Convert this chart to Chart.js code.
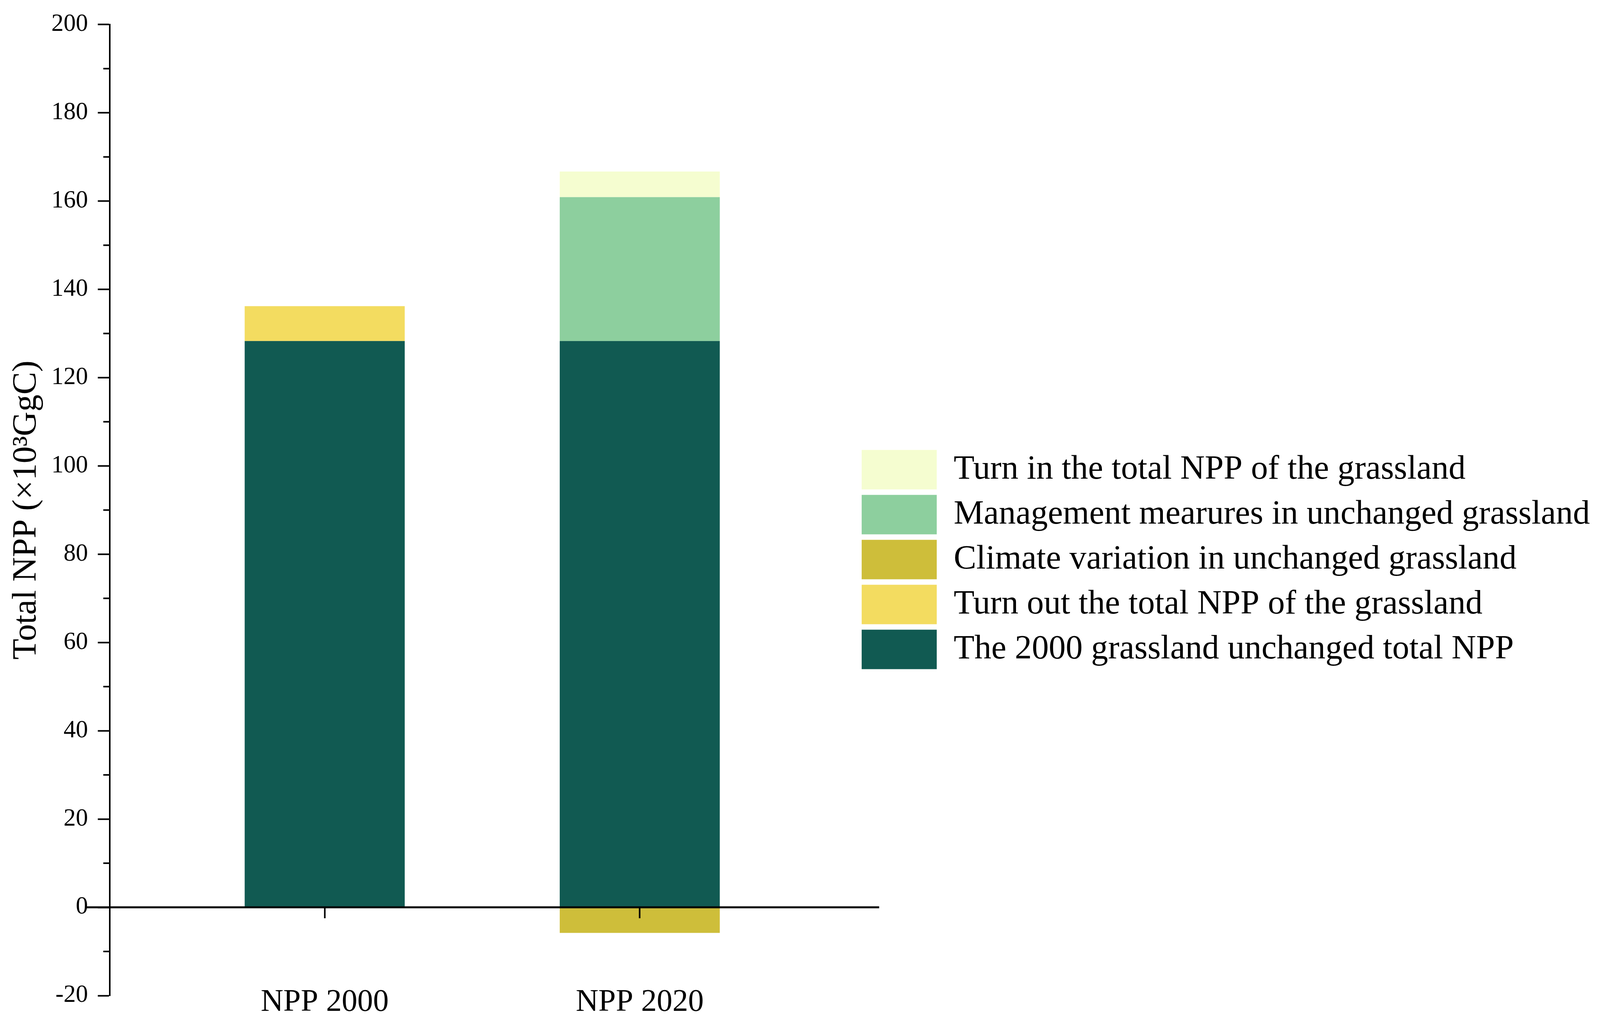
<!DOCTYPE html>
<html>
<head>
<meta charset="utf-8">
<script src="https://cdn.jsdelivr.net/npm/chart.js@4.4.1/dist/chart.umd.min.js"></script>
<style>
    html, body { margin: 0; padding: 0; background: #ffffff; overflow: hidden; }
    #wrap { width: 100vw; height: 100vh; }
</style>
</head>
<body>
<div id="wrap"><canvas id="nppChart"></canvas></div>
<script>
// values (x10^3 GgC)
var categories = ['NPP 2000', 'NPP 2020'];
var unchangedNpp = [128.3, 128.3];
var turnOutNpp = [7.9, null];
var climateNpp = [null, -5.8];
var managementNpp = [null, 32.6];
var turnInNpp = [null, 5.8];

var seriesNames = [
    'The 2000 grassland unchanged total NPP',
    'Turn out the total NPP of the grassland',
    'Climate variation in unchanged grassland',
    'Management mearures in unchanged grassland',
    'Turn in the total NPP of the grassland'
];
var seriesColors = ['#115a52', '#f3dc60', '#cebe3a', '#8dcf9e', '#f5fdd0'];

var yMin = -20;
var yMax = 200;
var yStep = 20;

var FONT = 'Liberation Serif';

// sizes below are for a 4390x2636 page, scaled to the real window
var sx = window.innerWidth / 4390;
var sy = window.innerHeight / 2636;

// bars sit on a linear x scale at 1, 2, ... so the axis range can be set like the original
function toPoints(values) {
    return values.map(function (v, i) {
        return { x: i + 1, y: v };
    });
}

function categoryTicks(scale) {
    scale.ticks = categories.map(function (c, i) {
        return { value: i + 1 };
    });
}

var seriesValues = [unchangedNpp, turnOutNpp, climateNpp, managementNpp, turnInNpp];
var datasets = seriesValues.map(function (vals, i) {
    return {
        label: seriesNames[i],
        data: toPoints(vals),
        backgroundColor: seriesColors[i],
        borderWidth: 0,
        barPercentage: 0.508,
        categoryPercentage: 1.0
    };
});

// zero line through the bars and the minor ticks of the y axis
var axisExtras = {
    id: 'axisExtras',
    afterDatasetsDraw: function (chart) {
        var ctx = chart.ctx;
        var area = chart.chartArea;
        var y0 = chart.scales.y.getPixelForValue(0);
        ctx.save();
        ctx.strokeStyle = '#000000';
        ctx.lineWidth = 5;
        ctx.beginPath();
        ctx.moveTo(area.left - 68 * sx, y0);
        ctx.lineTo(area.right + 63 * sx, y0);
        ctx.stroke();
        ctx.restore();
    },
    afterDraw: function (chart) {
        var ctx = chart.ctx;
        var yScale = chart.scales.y;
        var ticks = yScale.ticks;
        ctx.save();
        ctx.strokeStyle = '#000000';
        ctx.lineWidth = 4;
        for (var i = 0; i < ticks.length - 1; i++) {
            var py = yScale.getPixelForValue((ticks[i].value + ticks[i + 1].value) / 2);
            ctx.beginPath();
            ctx.moveTo(yScale.right - 18 * sx, py);
            ctx.lineTo(yScale.right, py);
            ctx.stroke();
        }
        ctx.restore();
    }
};

var ctx = document.getElementById('nppChart').getContext('2d');
var myChart = new Chart(ctx, {
    type: 'bar',
    plugins: [axisExtras],
    data: {
        datasets: datasets
    },
    options: {
        responsive: true,
        maintainAspectRatio: false,
        devicePixelRatio: 1,
        animation: false,
        layout: {
            padding: { top: 56 * sy, right: 17 * sx, bottom: 88 * sy, left: 0 }
        },
        scales: {
            x: {
                type: 'linear',
                display: false,
                stacked: true,
                offset: false,
                min: 0.318,
                max: 2.687,
                afterBuildTicks: categoryTicks
            },
            // axis drawn on the zero line; its labels are pushed down to the bottom
            x0: {
                type: 'linear',
                axis: 'x',
                position: { y: 0 },
                offset: false,
                min: 0.318,
                max: 2.687,
                afterBuildTicks: categoryTicks,
                ticks: {
                    color: '#000000',
                    padding: 168 * sy,
                    font: { family: FONT, size: 86 * sx },
                    callback: function (v) {
                        return categories[v - 1];
                    }
                },
                grid: {
                    offset: false,
                    drawOnChartArea: false,
                    tickLength: 28 * sy,
                    tickWidth: 4,
                    tickColor: '#000000',
                    z: 1
                },
                border: { display: false }
            },
            y: {
                stacked: true,
                min: yMin,
                max: yMax,
                ticks: {
                    stepSize: yStep,
                    color: '#000000',
                    padding: 27 * sx,
                    font: { family: FONT, size: 67 * sx }
                },
                grid: {
                    drawOnChartArea: false,
                    tickLength: 33 * sx,
                    tickWidth: 4,
                    tickColor: '#000000'
                },
                border: { color: '#000000', width: 4 },
                title: {
                    display: true,
                    text: 'Total NPP (\u00d710\u00b3GgC)',
                    color: '#000000',
                    font: { family: FONT, size: 87 * sy },
                    padding: { top: 17 * sx, bottom: -15 * sx }
                }
            }
        },
        plugins: {
            tooltip: { enabled: false },
            legend: {
                position: 'right',
                align: 'center',
                reverse: true,
                maxWidth: 2200 * sx,
                title: {
                    display: true,
                    text: '',
                    padding: 124 * sy,
                    font: { size: 10 }
                },
                labels: {
                    boxWidth: 206 * sx,
                    boxHeight: 101 * sy,
                    padding: 14 * sy,
                    color: '#000000',
                    font: { family: FONT, size: 93 * sx }
                }
            }
        }
    }
});
</script>
</body>
</html>
